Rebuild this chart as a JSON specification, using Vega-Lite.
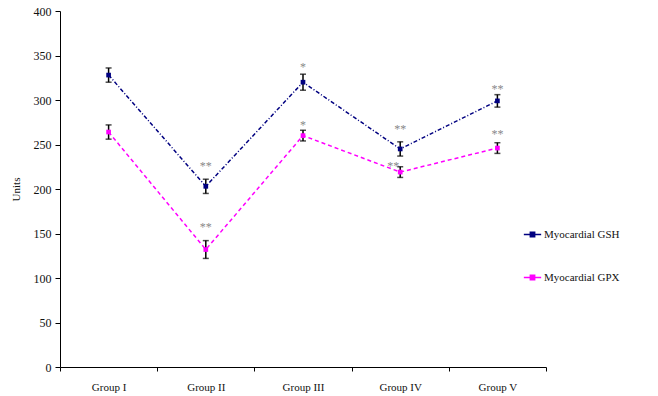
{
  "$schema": "https://vega.github.io/schema/vega-lite/v6.json",
  "autosize": {"type": "none"},
  "width": 486,
  "height": 356,
  "padding": {"left": 60, "top": 11, "right": 112, "bottom": 29},
  "background": "white",
  "config": {
    "font": "Liberation Serif",
    "view": {"stroke": null},
    "axis": {"labelFont": "Liberation Serif", "titleFont": "Liberation Serif", "labelColor": "#111", "titleColor": "#111", "domainColor": "#000", "tickColor": "#000", "grid": false}
  },
  "data": {
    "values": [
      {"group": "Group I", "series": "Myocardial GSH", "value": 328, "err": 8, "star": "", "labely": 0, "shift": "no"},
      {"group": "Group II", "series": "Myocardial GSH", "value": 203, "err": 8, "star": "**", "labely": 229, "shift": "no"},
      {"group": "Group III", "series": "Myocardial GSH", "value": 320, "err": 9, "star": "*", "labely": 340, "shift": "no"},
      {"group": "Group IV", "series": "Myocardial GSH", "value": 245, "err": 8, "star": "**", "labely": 271, "shift": "no"},
      {"group": "Group V", "series": "Myocardial GSH", "value": 299, "err": 7, "star": "**", "labely": 316, "shift": "no"},
      {"group": "Group I", "series": "Myocardial GPX", "value": 264, "err": 8, "star": "", "labely": 0, "shift": "no"},
      {"group": "Group II", "series": "Myocardial GPX", "value": 132, "err": 10, "star": "**", "labely": 161, "shift": "no"},
      {"group": "Group III", "series": "Myocardial GPX", "value": 260, "err": 6, "star": "*", "labely": 275, "shift": "no"},
      {"group": "Group IV", "series": "Myocardial GPX", "value": 219, "err": 6, "star": "**", "labely": 229, "shift": "yes"},
      {"group": "Group V", "series": "Myocardial GPX", "value": 246, "err": 6, "star": "**", "labely": 265, "shift": "no"}
    ]
  },
  "transform": [
    {"calculate": "datum.value - datum.err", "as": "lo"},
    {"calculate": "datum.value + datum.err", "as": "hi"},
    {"calculate": "datum.series == 'Myocardial GSH' ? 'a' : 'b'", "as": "dashkey"}
  ],
  "encoding": {
    "x": {
      "field": "group", "type": "nominal", "sort": null,
      "scale": {"paddingInner": 0, "paddingOuter": 0},
      "axis": {"title": null, "labelAngle": 0, "labelFontSize": 11, "labelPadding": 10, "tickSize": 4, "tickBand": "extent", "domainWidth": 1}
    },
    "y": {"field": "value", "type": "quantitative", "scale": {"domain": [0, 400]}, "axis": {"title": "Units", "values": [0,50,100,150,200,250,300,350,400], "labelFontSize": 12, "tickSize": 5, "labelPadding": 4, "titleFontSize": 11, "titleFontWeight": "normal", "titlePadding": 12}}
  },
  "layer": [
    {
      "mark": {"type": "line", "strokeWidth": 1.5},
      "encoding": {
        "color": {
          "field": "series", "type": "nominal",
          "scale": {"domain": ["Myocardial GSH", "Myocardial GPX"], "range": ["#000080", "#FF00FF"]},
          "legend": {
            "title": null, "orient": "none", "legendX": 463, "legendY": 214,
            "labelFont": "Liberation Serif", "labelFontSize": 11, "labelColor": "#111",
            "symbolType": "M -1 0 H 1 M -0.25 -0.25 H 0.25 V 0.25 H -0.25 Z",
            "symbolSize": 300, "symbolStrokeWidth": 1.5, "rowPadding": 28, "labelOffset": 2,
            "encode": {"symbols": {"update": {"fill": {"scale": "color", "field": "value"}, "stroke": {"scale": "color", "field": "value"}, "opacity": {"value": 1}}}}
          }
        },
        "strokeDash": {
          "field": "dashkey", "type": "nominal",
          "scale": {"domain": ["a", "b"], "range": [[4, 2, 1, 2], [4, 3]]},
          "legend": null
        }
      }
    },
    {
      "mark": {"type": "rule", "color": "#000", "strokeWidth": 1.5},
      "encoding": {"y": {"field": "lo", "type": "quantitative"}, "y2": {"field": "hi"}}
    },
    {
      "mark": {"type": "tick", "color": "#000", "size": 6, "thickness": 1.5},
      "encoding": {"y": {"field": "lo", "type": "quantitative"}}
    },
    {
      "mark": {"type": "tick", "color": "#000", "size": 6, "thickness": 1.5},
      "encoding": {"y": {"field": "hi", "type": "quantitative"}}
    },
    {
      "mark": {"type": "point", "shape": "square", "filled": true, "size": 22, "opacity": 1},
      "encoding": {
        "color": {"field": "series", "type": "nominal", "legend": null}
      }
    },
    {
      "transform": [{"filter": "datum.star != '' && datum.shift == 'no'"}],
      "mark": {"type": "text", "fontSize": 12, "color": "#888", "baseline": "middle", "dy": 3},
      "encoding": {
        "y": {"field": "labely", "type": "quantitative"},
        "text": {"field": "star", "type": "nominal"}
      }
    },
    {
      "transform": [{"filter": "datum.shift == 'yes'"}],
      "mark": {"type": "text", "fontSize": 12, "color": "#888", "baseline": "middle", "dy": 3, "dx": -7},
      "encoding": {
        "y": {"field": "labely", "type": "quantitative"},
        "text": {"field": "star", "type": "nominal"}
      }
    }
  ]
}
